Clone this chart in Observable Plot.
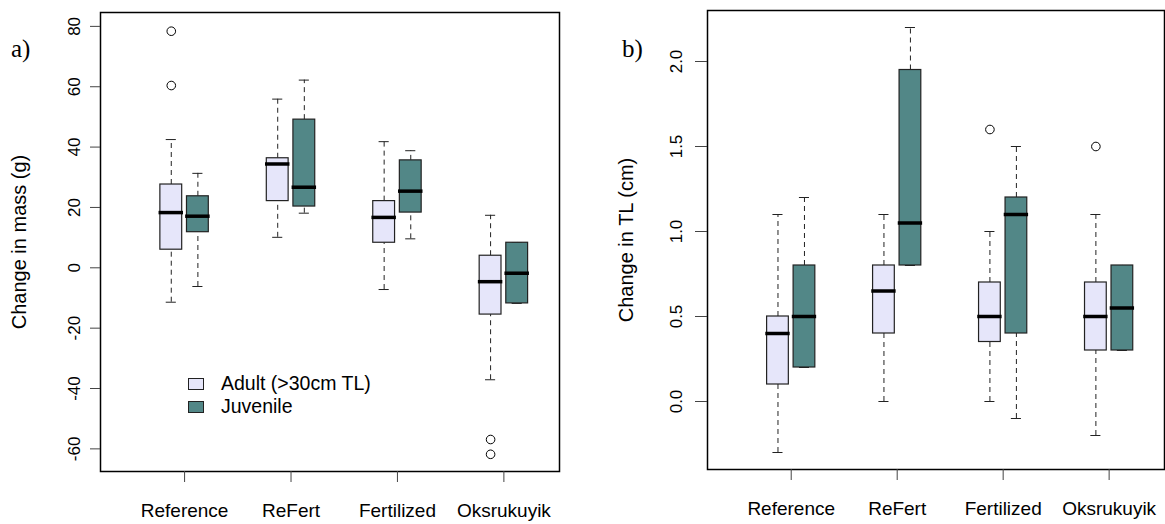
<!DOCTYPE html>
<html><head><meta charset="utf-8">
<script src="https://cdn.jsdelivr.net/npm/d3@7"></script>
<script src="https://cdn.jsdelivr.net/npm/@observablehq/plot@0.6"></script>
<style>
body{margin:0;background:#fff;font-family:"Liberation Sans",Arial,sans-serif;}
#wrap{position:relative;width:1165px;height:524px;display:flex;overflow:hidden;}
#wrap svg{display:block;}
.lab{position:absolute;font-family:"Liberation Serif","Times New Roman",serif;font-size:25px;color:#000;line-height:1;}
.legend{position:absolute;left:188px;top:372px;font-size:19.5px;line-height:23px;color:#000;}
.legend div{display:flex;align-items:center;}
.sw{width:14px;height:10px;border:1.2px solid #222;margin-right:17px;}
</style></head><body><div id="wrap"></div>
<script>
const categories = ["Reference", "ReFert", "Fertilized", "Oksrukuyik"];
const series = ["Adult (>30cm TL)", "Juvenile"];
const colors = ["#E6E6FA", "#528787"];

// Panel a: change in mass (g)
const massAdultLo  = [-11.4, 10.1, -7.2, -37.1];
const massAdultQ1  = [6.0, 22.1, 8.3, -15.5];
const massAdultMed = [18.3, 34.4, 16.7, -4.6];
const massAdultQ3  = [27.6, 36.3, 22.1, 4.0];
const massAdultHi  = [42.5, 55.9, 41.8, 17.4];
const massJuvLo    = [-6.2, 18.1, 9.6, -11.8];
const massJuvQ1    = [11.8, 20.3, 18.3, -11.8];
const massJuvMed   = [17.1, 26.7, 25.4, -1.8];
const massJuvQ3    = [23.7, 49.1, 35.6, 8.3];
const massJuvHi    = [31.3, 62.2, 38.8, 8.3];
const massAdultOut = [[78.4, 60.4], [], [], [-56.9, -61.8]];
const massJuvOut   = [[], [], [], []];
const massTicks = [-60, -40, -20, 0, 20, 40, 60, 80];

// Panel b: change in TL (cm)
const tlAdultLo  = [-0.3, 0.0, 0.0, -0.2];
const tlAdultQ1  = [0.1, 0.4, 0.35, 0.3];
const tlAdultMed = [0.4, 0.65, 0.5, 0.5];
const tlAdultQ3  = [0.5, 0.8, 0.7, 0.7];
const tlAdultHi  = [1.1, 1.1, 1.0, 1.1];
const tlJuvLo    = [0.2, 0.8, -0.1, 0.3];
const tlJuvQ1    = [0.2, 0.8, 0.4, 0.3];
const tlJuvMed   = [0.5, 1.05, 1.1, 0.55];
const tlJuvQ3    = [0.8, 1.95, 1.2, 0.8];
const tlJuvHi    = [1.2, 2.2, 1.5, 0.8];
const tlAdultOut = [[], [], [1.6], [1.5]];
const tlJuvOut   = [[], [], [], []];
const tlTicks = [0, 0.5, 1, 1.5, 2];

function boxRows(lo, q1, med, q3, hi, s) {
  return categories.map((c, i) => ({cat: c, series: series[s], pos: i * 4 + 1 + s,
    lo: lo[i], q1: q1[i], med: med[i], q3: q3[i], hi: hi[i]}));
}
function outRows(outs, s) {
  return outs.flatMap((vals, i) => vals.map(v => ({cat: categories[i], series: series[s], pos: i * 4 + 1 + s, value: v})));
}

function panel({rows, outs, yDomain, yTicks, yFormat, yLabel, width, marginLeft, marginRight, marginTop, marginBottom, yTickSize, yTickPadding}) {
  const hw = 0.41, sw = 0.19;
  return Plot.plot({
    width, height: 524, marginLeft, marginRight, marginTop, marginBottom,
    style: {fontFamily: '"Liberation Sans", Arial, sans-serif', background: "white", color: "black"},
    x: {domain: [-1.66, 15.59], axis: null},
    y: {domain: yDomain, axis: null},
    color: {domain: series, range: colors},
    marks: [
      Plot.ruleX(rows, {x: "pos", y1: "q3", y2: "hi", stroke: "#222", strokeWidth: 1, strokeDasharray: "5,4"}),
      Plot.ruleX(rows, {x: "pos", y1: "lo", y2: "q1", stroke: "#222", strokeWidth: 1, strokeDasharray: "5,4"}),
      Plot.ruleY(rows, {y: "hi", x1: d => d.pos - sw, x2: d => d.pos + sw, stroke: "#222", strokeWidth: 1}),
      Plot.ruleY(rows, {y: "lo", x1: d => d.pos - sw, x2: d => d.pos + sw, stroke: "#222", strokeWidth: 1}),
      Plot.rect(rows, {x1: d => d.pos - hw, x2: d => d.pos + hw, y1: "q1", y2: "q3", fill: "series", stroke: "#222", strokeWidth: 1.2}),
      Plot.ruleY(rows, {y: "med", x1: d => d.pos - hw - 0.05, x2: d => d.pos + hw + 0.05, stroke: "black", strokeWidth: 3.5}),
      Plot.dot(outs, {x: "pos", y: "value", r: 4.3, stroke: "black", fill: "white", strokeWidth: 1}),
      Plot.frame({stroke: "black", strokeWidth: 1.5}),
      Plot.axisY({ticks: yTicks, tickFormat: yFormat, tickSize: yTickSize, tickPadding: yTickPadding, tickRotate: -90,
        fontSize: 17, stroke: "#444", label: null}),
      Plot.text([yLabel], {frameAnchor: "left", dx: -75, rotate: -90, fontSize: 20,
        textAnchor: "middle", lineAnchor: "bottom", fill: "black"}),
      Plot.axisX({ticks: [1.5, 5.5, 9.5, 13.5], tickFormat: (d, i) => categories[i], tickSize: 11,
        tickPadding: 21, fontSize: 19, stroke: "#444", label: null})
    ]
  });
}

const rowsA = [...boxRows(massAdultLo, massAdultQ1, massAdultMed, massAdultQ3, massAdultHi, 0),
               ...boxRows(massJuvLo, massJuvQ1, massJuvMed, massJuvQ3, massJuvHi, 1)];
const outsA = [...outRows(massAdultOut, 0), ...outRows(massJuvOut, 1)];
const rowsB = [...boxRows(tlAdultLo, tlAdultQ1, tlAdultMed, tlAdultQ3, tlAdultHi, 0),
               ...boxRows(tlJuvLo, tlJuvQ1, tlJuvMed, tlJuvQ3, tlJuvHi, 1)];
const outsB = [...outRows(tlAdultOut, 0), ...outRows(tlJuvOut, 1)];

const wrap = document.getElementById("wrap");
wrap.append(panel({rows: rowsA, outs: outsA, yDomain: [-67.5, 84.6], yTicks: massTicks, yFormat: d => String(d),
  yLabel: "Change in mass (g)", width: 580, marginLeft: 100, marginRight: 21, marginTop: 12, marginBottom: 53,
  yTickSize: 10, yTickPadding: 11}));
wrap.append(panel({rows: rowsB, outs: outsB, yDomain: [-0.4, 2.3], yTicks: tlTicks, yFormat: d3.format(".1f"),
  yLabel: "Change in TL (cm)", width: 585, marginLeft: 127, marginRight: 1, marginTop: 10, marginBottom: 55,
  yTickSize: 12, yTickPadding: 14}));

// panel letters
const la = document.createElement("div"); la.className = "lab"; la.textContent = "a)";
la.style.left = "11px"; la.style.top = "36px"; wrap.append(la);
const lb = document.createElement("div"); lb.className = "lab"; lb.textContent = "b)";
lb.style.left = "622px"; lb.style.top = "36px"; wrap.append(lb);

// legend
const leg = document.createElement("div"); leg.className = "legend";
series.forEach((s, i) => {
  const row = document.createElement("div");
  const sq = document.createElement("span"); sq.className = "sw"; sq.style.background = colors[i];
  const tx = document.createElement("span"); tx.textContent = s;
  row.append(sq, tx); leg.append(row);
});
wrap.append(leg);
</script>
</body></html>
